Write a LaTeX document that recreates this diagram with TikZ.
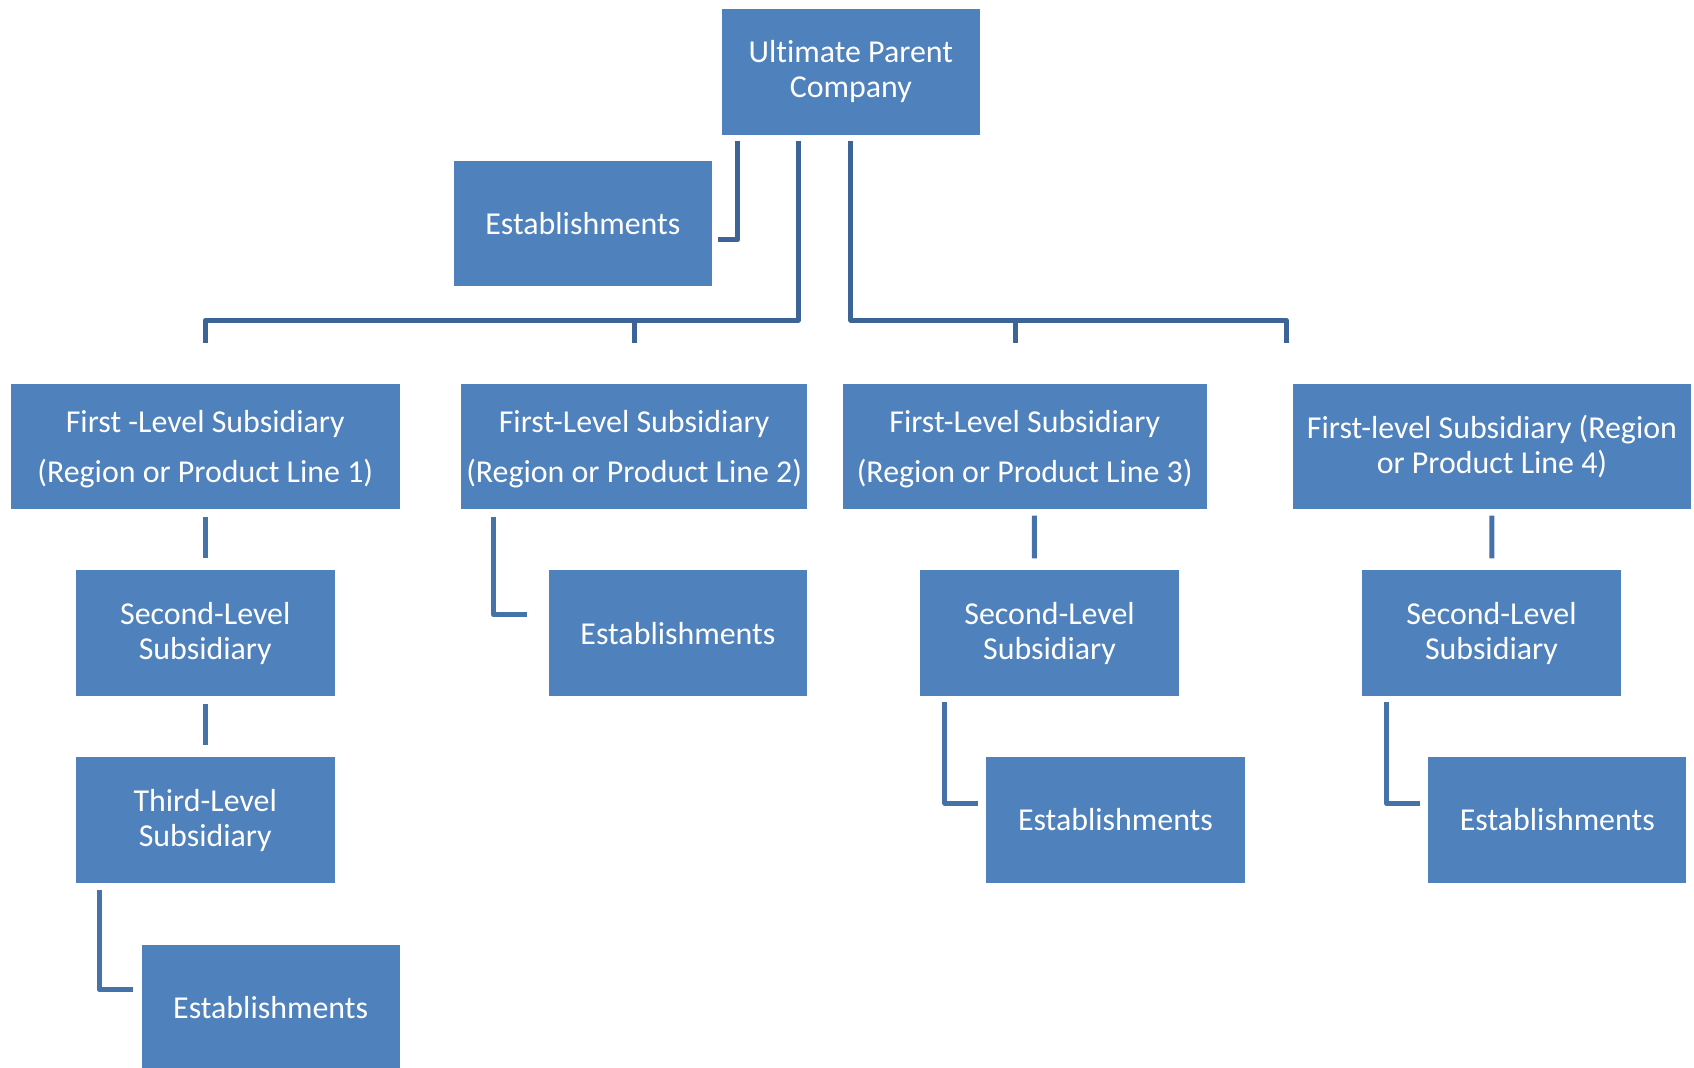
\documentclass[tikz,border=0pt]{standalone}
\usepackage{fontspec}
\setmainfont{Carlito}[Ligatures=NoCommon]
\usetikzlibrary{calc}
\definecolor{boxblue}{HTML}{4F81BD}
\definecolor{lineA}{HTML}{3C6496}
\definecolor{lineB}{HTML}{4672AA}
\newcommand\lift{\rule{0pt}{28.5pt}}
\begin{document}
\begin{tikzpicture}[x=1.0804pt,y=-1.0804pt,
  box/.style={fill=boxblue, text=white, inner sep=0pt, align=center,
    font=\fontsize{31.9}{35}\selectfont},
  wide/.style={font=\fontsize{31.9}{49.7}\selectfont},
  sz/.style 2 args={minimum width={#1*1.0804pt}, minimum height={#2*1.0804pt}},
  link/.style={line width=5pt, line join=round, draw=lineA},
  linkb/.style={link, draw=lineB}]
\useasboundingbox (0,0) rectangle (1568,988);

\node[box, sz={239}{117}] (top) at (787.5,66.5) {Ultimate Parent\\Company};
\node[box, sz={239}{116}] (estTop) at (539.5,207) {Establishments};
\node[box, wide, sz={360}{116}] (L1a) at (190,413) {\lift First -Level Subsidiary\\(Region or Product Line 1)};
\node[box, wide, sz={320}{116}] (L1b) at (587,413) {\lift First-Level Subsidiary\\(Region or Product Line 2)};
\node[box, wide, sz={337}{116}] (L1c) at (948.5,413) {\lift First-Level Subsidiary\\(Region or Product Line 3)};
\node[box, sz={368}{116}] (L1d) at (1381,413) {First-level Subsidiary (Region\\or Product Line 4)};
\node[box, sz={240}{116}] (S2a) at (190,586) {Second-Level\\Subsidiary};
\node[box, sz={240}{116}] (T3a) at (190,759) {Third-Level\\Subsidiary};
\node[box, sz={239}{116}] (E4a) at (250.5,933) {Establishments};
\node[box, sz={239}{116}] (E2b) at (627.5,586) {Establishments};
\node[box, sz={239}{116}] (S2c) at (971.5,586) {Second-Level\\Subsidiary};
\node[box, sz={239}{116}] (E3c) at (1032.5,759) {Establishments};
\node[box, sz={239}{116}] (S2d) at (1380.5,586) {Second-Level\\Subsidiary};
\node[box, sz={239}{116}] (E3d) at (1441.5,759) {Establishments};

% top-level connectors
\draw[link] ($(top.south west)+(15,5)$) |- ($(estTop.east)+(5,15)$);
\draw[link] ($(top.south west)+(71,5)$) |- ($(L1a.north)+(0,-58.5)$) -- ($(L1a.north)+(0,-37)$);
\draw[link] ($(L1b.north)+(0,-58.5)$) -- ($(L1b.north)+(0,-37)$);
\draw[link] ($(top.south)+(0,5)$) |- ($(L1d.north)+(-190.4,-58.5)$) -- ($(L1d.north)+(-190.4,-37)$);
\draw[link] ($(L1c.north)+(-9,-58.5)$) -- ($(L1c.north)+(-9,-37)$);

% lower connectors
\draw[linkb] ($(L1a.south)+(0,7)$) -- ($(S2a.north)+(0,-11)$);
\draw[linkb] ($(S2a.south)+(0,7)$) -- ($(T3a.north)+(0,-11)$);
\draw[linkb] ($(T3a.south west)+(22,7)$) |- ($(E4a.west)+(-8,-17)$);
\draw[linkb] ($(L1b.south west)+(30,7)$) |- ($(E2b.west)+(-20,-17)$);
\draw[linkb] ($(L1c.south)+(9,6)$) -- ($(S2c.north)+(-14.1,-11)$);
\draw[linkb] ($(S2c.south west)+(22.7,6)$) |- ($(E3c.west)+(-8,-15.5)$);
\draw[linkb] ($(L1d.south)+(0,6)$) -- ($(S2d.north)+(0.5,-11)$);
\draw[linkb] ($(S2d.south west)+(22.5,6)$) |- ($(E3d.west)+(-7.5,-15.5)$);
\end{tikzpicture}
\end{document}
